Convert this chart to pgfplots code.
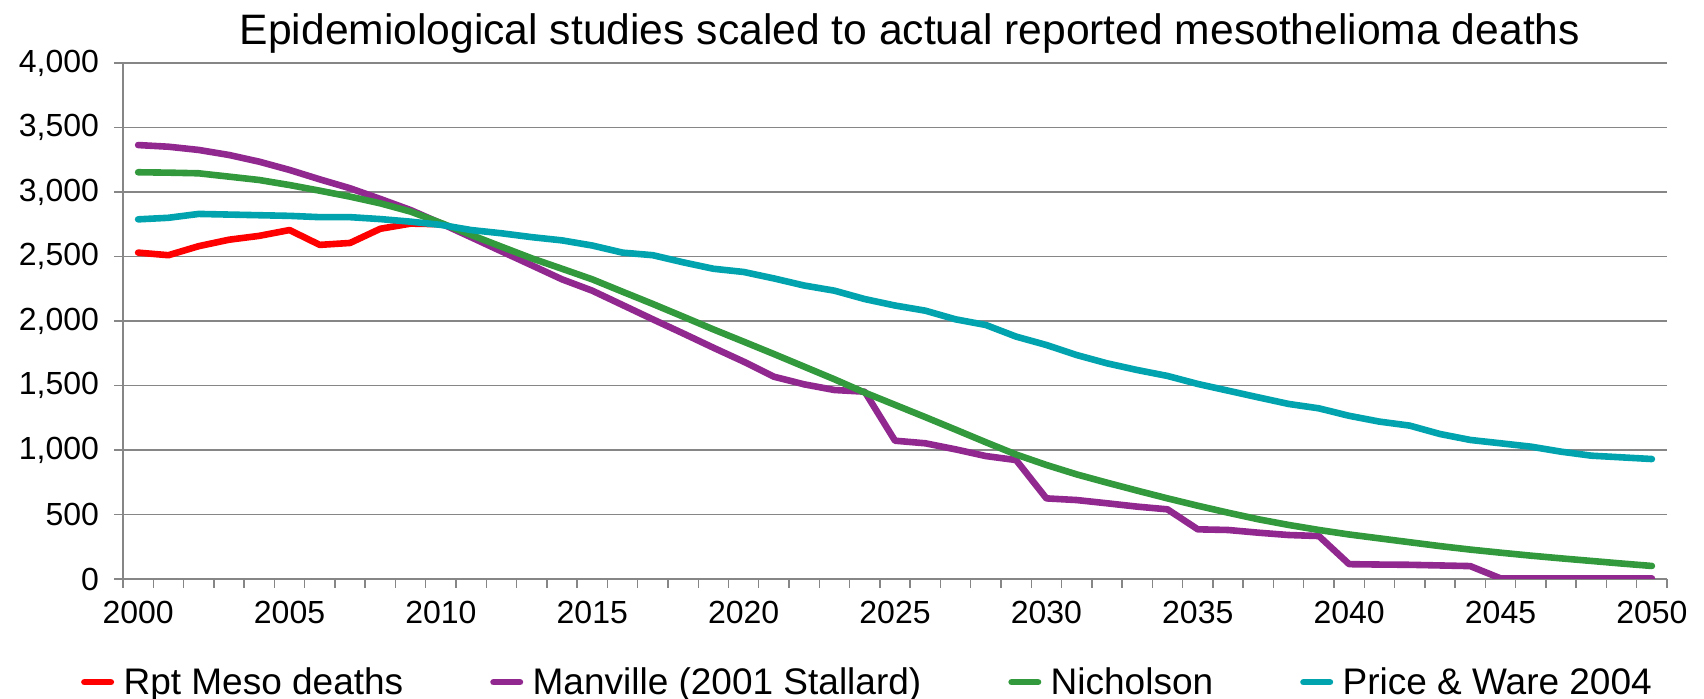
\documentclass[border=0pt]{standalone}
\usepackage{pgfplots}
\pgfplotsset{compat=1.18}
\usepackage{fontspec}
\setmainfont{Liberation Sans}

\definecolor{rptred}{RGB}{255,0,0}
\definecolor{manpurple}{RGB}{145,40,143}
\definecolor{nicgreen}{RGB}{51,153,61}
\definecolor{pwcyan}{RGB}{0,163,174}
\definecolor{gridgray}{RGB}{134,134,134}

\pgfplotstableread{
year val
2000 2530
2001 2510
2002 2580
2003 2630
2004 2660
2005 2705
2006 2590
2007 2605
2008 2715
2009 2755
2010 2750
}\rptdata

\pgfplotstableread{
year val
2000 3364
2001 3351
2002 3326
2003 3287
2004 3235
2005 3171
2006 3098
2007 3029
2008 2946
2009 2860
2010 2757
2011 2649
2012 2540
2013 2432
2014 2323
2015 2235
2016 2124
2017 2013
2018 1904
2019 1793
2020 1685
2021 1568
2022 1509
2023 1465
2024 1452
2025 1072
2026 1052
2027 1005
2028 953
2029 922
2030 625
2031 612
2032 587
2033 561
2034 540
2035 385
2036 380
2037 359
2038 341
2039 333
2040 115
2041 112
2042 110
2043 105
2044 100
2045 5
2046 5
2047 5
2048 5
2049 5
2050 5
}\manvilledata

\pgfplotstableread{
year val
2000 3153
2001 3150
2002 3145
2003 3119
2004 3093
2005 3054
2006 3010
2007 2964
2008 2912
2009 2848
2010 2760
2011 2667
2012 2576
2013 2486
2014 2405
2015 2323
2016 2227
2017 2132
2018 2034
2019 1935
2020 1840
2021 1744
2022 1646
2023 1548
2024 1445
2025 1350
2026 1255
2027 1158
2028 1060
2029 965
2030 884
2031 811
2032 747
2033 685
2034 625
2035 568
2036 514
2037 463
2038 419
2039 380
2040 345
2041 315
2042 285
2043 255
2044 228
2045 204
2046 181
2047 160
2048 140
2049 120
2050 101
}\nicholsondata

\pgfplotstableread{
year val
2000 2788
2001 2800
2002 2830
2003 2825
2004 2820
2005 2815
2006 2805
2007 2805
2008 2790
2009 2770
2010 2745
2011 2705
2012 2680
2013 2650
2014 2625
2015 2585
2016 2530
2017 2510
2018 2455
2019 2405
2020 2380
2021 2330
2022 2275
2023 2235
2024 2170
2025 2120
2026 2080
2027 2013
2028 1969
2029 1879
2030 1814
2031 1736
2032 1672
2033 1620
2034 1574
2035 1512
2036 1460
2037 1408
2038 1357
2039 1323
2040 1265
2041 1220
2042 1189
2043 1124
2044 1078
2045 1052
2046 1026
2047 987
2048 956
2049 943
2050 930
}\pricewaredata

\begin{document}
\begin{tikzpicture}
\begin{axis}[
    width=772pt, height=258pt, scale only axis,
    xmin=1999.5, xmax=2050.5,
    ymin=0, ymax=4000,
    axis lines=left,
    axis line style={draw=gridgray, line width=0.7pt, -},
    xtick={1999.5,2000.5,...,2050.5},
    xticklabels={},
    extra x ticks={2000,2005,...,2050},
    extra x tick labels={2000,2005,2010,2015,2020,2025,2030,2035,2040,2045,2050},
    extra x tick style={major tick length=0pt, grid=none},
    ytick={0,500,...,4000},
    ymajorgrids,
    major grid style={draw=gridgray, line width=0.7pt},
    tick style={draw=gridgray, line width=0.7pt},
    tick align=outside,
    major tick length=4.5pt,
    scaled y ticks=false,
    /pgf/number format/.cd, 1000 sep={,}, assume math mode=true,
    /pgfplots/.cd,
    tick label style={font=\fontsize{16}{19}\selectfont, text=black},
    yticklabel style={xshift=-4pt},
    xticklabel style={yshift=-7.5pt},
    title={Epidemiological studies scaled to actual reported mesothelioma deaths},
    title style={at={(0.5097,1)}, anchor=base, yshift=3.4pt,
                 font=\fontsize{21.3}{25}\selectfont},
    legend columns=4,
    legend style={at={(0.4828,-0.2)}, anchor=center, draw=none, fill=none,
                  font=\fontsize{18.5}{22}\selectfont,
                  /tikz/every even column/.append style={column sep=41.5pt}},
    legend image code/.code={\draw[#1] (1.6pt,0pt) -- (14.8pt,0pt); \path (17.5pt,0pt);},
    every axis plot/.append style={line width=3.3pt, line join=round, line cap=round},
]
\addplot[rptred] table[x=year, y=val] {\rptdata};
\addplot[manpurple] table[x=year, y=val] {\manvilledata};
\addplot[nicgreen] table[x=year, y=val] {\nicholsondata};
\addplot[pwcyan] table[x=year, y=val] {\pricewaredata};
\legend{Rpt Meso deaths, Manville (2001 Stallard), Nicholson, Price \& Ware 2004}
\coordinate (bl) at (rel axis cs:0,0);
\coordinate (tr) at (rel axis cs:1,1);
\end{axis}
\pgfresetboundingbox
\path[use as bounding box] ([shift={(-61.5pt,-60pt)}]bl) rectangle ([shift={(18.5pt,31.5pt)}]tr);
\end{tikzpicture}
\end{document}
